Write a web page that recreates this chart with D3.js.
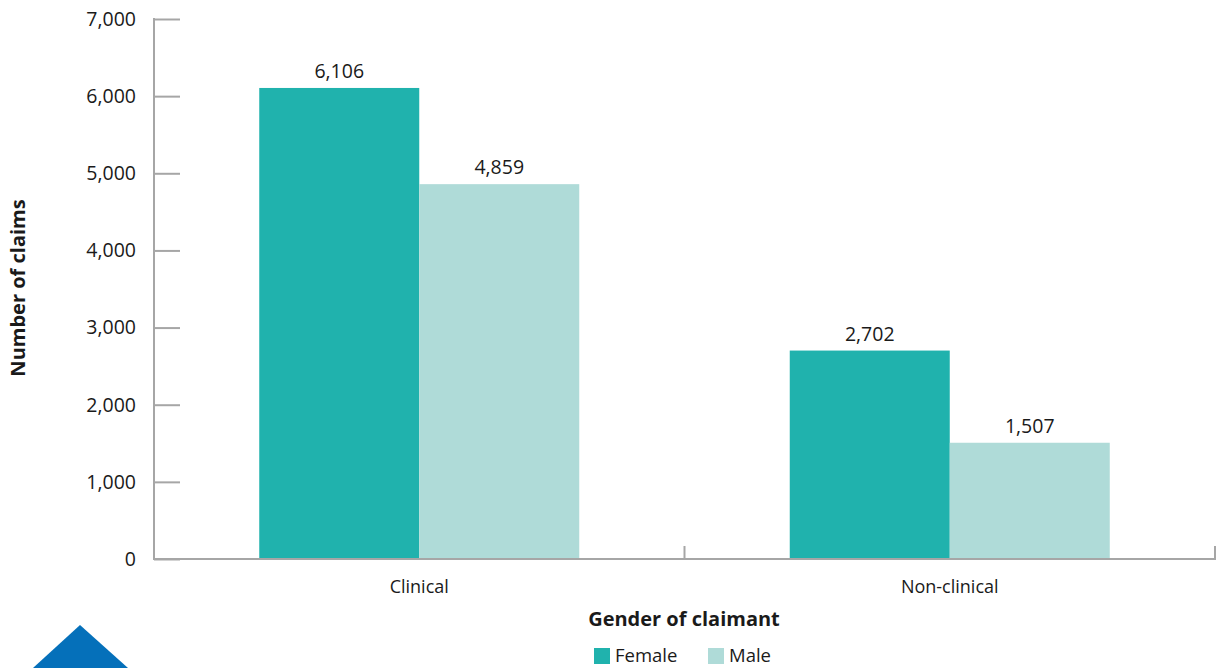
<!DOCTYPE html>
<html>
<head>
<meta charset="utf-8">
<script src="https://cdn.jsdelivr.net/npm/d3@7"></script>
<style>
  body { margin: 0; background: #fff; }
  text { font-family: "Open Sans", "Noto Sans", sans-serif; fill: #1a1a1a; }
</style>
</head>
<body>
<script>
// chart data
const categories = ['Clinical', 'Non-clinical'];
const seriesNames = ['Female', 'Male'];
const female = [6106, 2702];
const male = [4859, 1507];
const yTicks = [0, 1000, 2000, 3000, 4000, 5000, 6000, 7000];

const colors = { Female: '#20b2ad', Male: '#afdbd8' };
const axisColor = '#a6a6a6';

const width = 1217, height = 668;
const margin = { left: 154, right: 2, top: 19, bottom: 109 };

const svg = d3.select('body').append('svg')
  .attr('width', width)
  .attr('height', height);

const x = d3.scaleBand()
  .domain(categories)
  .range([margin.left, width - margin.right])
  .paddingInner(0)
  .paddingOuter(0);

const xs = d3.scaleBand()
  .domain(seriesNames)
  .range([0, x.bandwidth()])
  .paddingInner(0)
  .paddingOuter(0.5 * (x.bandwidth() - 320) / 160);

const y = d3.scaleLinear()
  .domain([0, 7000])
  .range([height - margin.bottom, margin.top]);

const rows = categories.map((c, i) => ({
  category: c,
  values: [
    { name: 'Female', value: female[i] },
    { name: 'Male', value: male[i] }
  ]
}));

// bars
const groups = svg.selectAll('g.group')
  .data(rows)
  .enter()
  .append('g')
  .attr('class', 'group')
  .attr('transform', d => `translate(${x(d.category)},0)`);

groups.selectAll('rect')
  .data(d => d.values)
  .enter()
  .append('rect')
  .attr('x', d => xs(d.name))
  .attr('y', d => y(d.value))
  .attr('width', xs.bandwidth())
  .attr('height', d => y(0) - y(d.value))
  .attr('fill', d => colors[d.name]);

groups.selectAll('text.val')
  .data(d => d.values)
  .enter()
  .append('text')
  .attr('class', 'val')
  .attr('x', d => xs(d.name) + xs.bandwidth() / 2)
  .attr('y', d => y(d.value) - 10)
  .attr('text-anchor', 'middle')
  .style('font-size', '19.5px')
  .text(d => d3.format(',')(d.value));

// y axis
const yAxis = svg.append('g')
  .attr('transform', `translate(${margin.left},0)`)
  .call(d3.axisRight(y).tickValues(yTicks).tickSize(26).tickFormat(''));
yAxis.select('.domain').remove();
yAxis.selectAll('line').attr('stroke', axisColor).attr('stroke-width', 2);
svg.append('line')
  .attr('x1', margin.left).attr('x2', margin.left)
  .attr('y1', y(7000) - 1).attr('y2', y(0) + 1)
  .attr('stroke', axisColor).attr('stroke-width', 2);

svg.selectAll('text.ytick')
  .data(yTicks)
  .enter()
  .append('text')
  .attr('class', 'ytick')
  .attr('x', margin.left - 18)
  .attr('y', d => y(d))
  .attr('dy', '0.35em')
  .attr('text-anchor', 'end')
  .style('font-size', '19.5px')
  .text(d => d3.format(',')(d));

// x axis
svg.append('line')
  .attr('x1', margin.left - 1).attr('x2', width - margin.right + 1)
  .attr('y1', y(0)).attr('y2', y(0))
  .attr('stroke', axisColor).attr('stroke-width', 2);

const bounds = categories.map(c => x(c) + x.bandwidth());
svg.selectAll('line.xtick')
  .data(bounds)
  .enter()
  .append('line')
  .attr('class', 'xtick')
  .attr('x1', d => d).attr('x2', d => d)
  .attr('y1', y(0)).attr('y2', y(0) - 13)
  .attr('stroke', axisColor).attr('stroke-width', 2);

svg.selectAll('text.xlab')
  .data(categories)
  .enter()
  .append('text')
  .attr('class', 'xlab')
  .attr('x', d => x(d) + x.bandwidth() / 2)
  .attr('y', y(0) + 34)
  .attr('text-anchor', 'middle')
  .style('font-size', '18px')
  .text(d => d);

// axis titles
svg.append('text')
  .attr('x', 684)
  .attr('y', 626)
  .attr('text-anchor', 'middle')
  .style('font-size', '20px')
  .style('font-weight', 'bold')
  .text('Gender of claimant');

svg.append('text')
  .attr('transform', 'translate(25,288) rotate(-90)')
  .attr('text-anchor', 'middle')
  .style('font-size', '20px')
  .style('font-weight', 'bold')
  .text('Number of claims');

// legend
const legendX = [594, 708];
const legend = svg.selectAll('g.legend')
  .data(seriesNames)
  .enter()
  .append('g')
  .attr('class', 'legend')
  .attr('transform', (d, i) => `translate(${legendX[i]},648)`);

legend.append('rect')
  .attr('width', 16).attr('height', 16)
  .attr('fill', d => colors[d]);

legend.append('text')
  .attr('x', 21)
  .attr('y', 8)
  .attr('dy', '0.35em')
  .style('font-size', '18.5px')
  .text(d => d);

// decorative triangle
svg.append('polygon')
  .attr('points', '33,668 80,625 128,668')
  .attr('fill', '#0570ba');
</script>
</body>
</html>
